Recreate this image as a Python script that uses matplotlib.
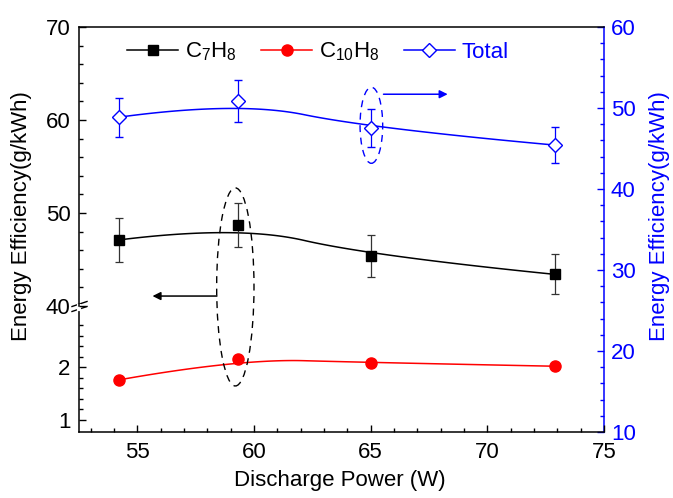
import numpy as np
import matplotlib
matplotlib.use('Agg')
import matplotlib.pyplot as plt
from matplotlib.patches import Ellipse
from matplotlib.lines import Line2D
from matplotlib.ticker import MultipleLocator, FixedLocator

plt.rcParams['font.family'] = ['Liberation Sans', 'DejaVu Sans']
plt.rcParams['mathtext.fontset'] = 'custom'
plt.rcParams['mathtext.rm'] = 'Liberation Sans'
plt.rcParams['mathtext.default'] = 'regular'
plt.rcParams['font.size'] = 16

# data
power = [54.2, 59.3, 65.0, 72.9]
c7h8 = [47.1, 48.7, 45.4, 43.4]
c7h8_err = [2.35, 2.4, 2.25, 2.15]
c10h8 = [1.76, 2.16, 2.09, 2.02]
total = [48.86, 50.86, 47.49, 45.42]
total_err = [2.4, 2.55, 2.35, 2.25]

BLUE = '#0000ff'
RED = '#ff0000'


def bspline2(xs, ys, n=60):
    # quadratic clamped b-spline through the data as control points (Origin "B-Spline" line)
    p = np.column_stack([xs, ys]).astype(float)
    m = len(p)
    starts = [p[0]] + [(p[i] + p[i + 1]) / 2 for i in range(1, m - 2)]
    ends = [(p[i] + p[i + 1]) / 2 for i in range(1, m - 2)] + [p[-1]]
    t = np.linspace(0, 1, n)[:, None]
    segs = []
    for k in range(m - 2):
        s, c, e = starts[k], p[k + 1], ends[k]
        segs.append((1 - t) ** 2 * s + 2 * (1 - t) * t * c + t ** 2 * e)
    out = np.vstack(segs)
    return out[:, 0], out[:, 1]


W, H = 673, 498
fig = plt.figure(figsize=(W / 100, H / 100), dpi=100)
L, R = 79 / W, 604 / W
ax_up = fig.add_axes([L, 1 - 306 / H, R - L, (306 - 27) / H])
ax_low = fig.add_axes([L, 1 - 432 / H, R - L, (432 - 310) / H])
ax_r = fig.add_axes([L, 1 - 432 / H, R - L, (432 - 27) / H])
for a in (ax_up, ax_low, ax_r):
    a.set_facecolor('none')
    a.set_xlim(52.5, 75)
ax_r.set_zorder(0)
ax_low.set_zorder(1)
ax_up.set_zorder(2)

lw_sp = 1.1
# upper part (C7H8)
ax_up.set_ylim(40, 70)
ax_up.spines['bottom'].set_visible(False)
ax_up.spines['right'].set_visible(False)
ax_up.spines['top'].set_linewidth(lw_sp)
ax_up.spines['left'].set_linewidth(lw_sp)
ax_up.yaxis.set_major_locator(MultipleLocator(10))
ax_up.yaxis.set_minor_locator(MultipleLocator(2))
ax_up.tick_params(axis='x', which='both', bottom=False, top=False, labelbottom=False)
ax_up.tick_params(axis='y', which='both', direction='in', right=False, pad=6, width=1)
ax_up.tick_params(axis='y', which='major', length=5)
ax_up.tick_params(axis='y', which='minor', length=3)

bx, by = bspline2(power, c7h8)
ax_up.plot(bx, by, color='k', lw=1.1)
ax_up.errorbar(power, c7h8, yerr=c7h8_err, fmt='s', color='k', ms=7.5,
               ecolor='#333333', elinewidth=0.9, capsize=3.2, capthick=0.9)

# lower part (C10H8)
ax_low.set_ylim(0.772, 3.087)
ax_low.spines['top'].set_visible(False)
ax_low.spines['right'].set_visible(False)
ax_low.spines['bottom'].set_linewidth(lw_sp)
ax_low.spines['left'].set_linewidth(lw_sp)
ax_low.yaxis.set_major_locator(FixedLocator([1, 2]))
ax_low.yaxis.set_minor_locator(FixedLocator(np.arange(1.2, 2.9, 0.2)))
ax_low.xaxis.set_major_locator(MultipleLocator(5))
ax_low.xaxis.set_minor_locator(MultipleLocator(1))
ax_low.tick_params(which='both', direction='in', top=False, right=False, width=1)
ax_low.tick_params(axis='y', pad=6)
ax_low.tick_params(axis='x', pad=7)
ax_low.tick_params(which='major', length=5)
ax_low.tick_params(which='minor', length=3)

bx, by = bspline2(power, c10h8)
ax_low.plot(bx, by, color=RED, lw=1.1)
ax_low.plot(power, c10h8, 'o', color=RED, ms=8)

# right axis (Total)
ax_r.set_ylim(10, 60)
for s in ('left', 'top', 'bottom'):
    ax_r.spines[s].set_visible(False)
ax_r.spines['right'].set_color(BLUE)
ax_r.spines['right'].set_linewidth(lw_sp)
ax_r.xaxis.set_visible(False)
ax_r.yaxis.tick_right()
ax_r.yaxis.set_major_locator(MultipleLocator(10))
ax_r.yaxis.set_minor_locator(MultipleLocator(2))
ax_r.tick_params(axis='y', which='both', direction='in', colors=BLUE, pad=5, width=1)
ax_r.tick_params(axis='y', which='major', length=5)
ax_r.tick_params(axis='y', which='minor', length=3)

bx, by = bspline2(power, total)
ax_r.plot(bx, by, color=BLUE, lw=1.1)
ax_r.errorbar(power, total, yerr=total_err, fmt='D', color=BLUE, mfc='white', mec=BLUE,
              ms=7, mew=1, ecolor=BLUE, elinewidth=0.9, capsize=3.2, capthick=0.9)

# axis break marks on left spine
for dy in (-3, 2):
    y0 = 1 - (307 + dy) / H
    fig.add_artist(Line2D([72 / W, 87 / W], [y0 - 2.5 / H, y0 + 2.5 / H],
                          transform=fig.transFigure, color='k', lw=1))
# white gap in spine between the marks
fig.add_artist(Line2D([L, L], [1 - 305.5 / H, 1 - 309.5 / H], transform=fig.transFigure,
                      color='white', lw=3))

# dashed ellipses and arrows
ax_up.add_patch(Ellipse((59.2, 42.05), 1.6, 21.3, fill=False, ls=(0, (5, 4)),
                        lw=1, ec='k', clip_on=False, zorder=5))
ax_up.annotate('', xy=(55.65, 41.07), xytext=(58.41, 41.07), annotation_clip=False,
               arrowprops=dict(arrowstyle='-|>', color='k', lw=1.1, mutation_scale=12,
                               shrinkA=0, shrinkB=0))
ax_r.add_patch(Ellipse((65.03, 47.87), 0.97, 9.4, fill=False, ls=(0, (5, 4)),
                       lw=1, ec=BLUE, clip_on=False))
ax_r.annotate('', xy=(68.3, 51.7), xytext=(65.55, 51.7),
              arrowprops=dict(arrowstyle='-|>', color=BLUE, lw=1.1, mutation_scale=12,
                              shrinkA=0, shrinkB=0))

# legend
handles = [Line2D([], [], color='k', marker='s', ms=7.5, lw=1.1),
           Line2D([], [], color=RED, marker='o', ms=8, lw=1.1),
           Line2D([], [], color=BLUE, marker='D', ms=7, mfc='white', mew=1, lw=1.1)]
labels = [r'C$_7$H$_8$', r'C$_{10}$H$_8$', 'Total']
leg = ax_up.legend(handles, labels, loc='center', ncol=3, frameon=False, fontsize=16,
                   bbox_to_anchor=(318 / W, 1 - 52 / H), bbox_transform=fig.transFigure,
                   handlelength=2.3, handletextpad=0.3, columnspacing=1.1, borderpad=0)
leg.get_texts()[2].set_color(BLUE)

fig.text(340 / W, 1 - 480 / H, 'Discharge Power (W)', ha='center', va='center', fontsize=16)
fig.text(22 / W, 1 - 216 / H, 'Energy Efficiency(g/kWh)', ha='center', va='center',
         rotation=90, fontsize=16)
fig.text(660 / W, 1 - 216 / H, 'Energy Efficiency(g/kWh)', ha='center', va='center',
         rotation=90, fontsize=16, color=BLUE)

fig.savefig('out.png', dpi=100)
